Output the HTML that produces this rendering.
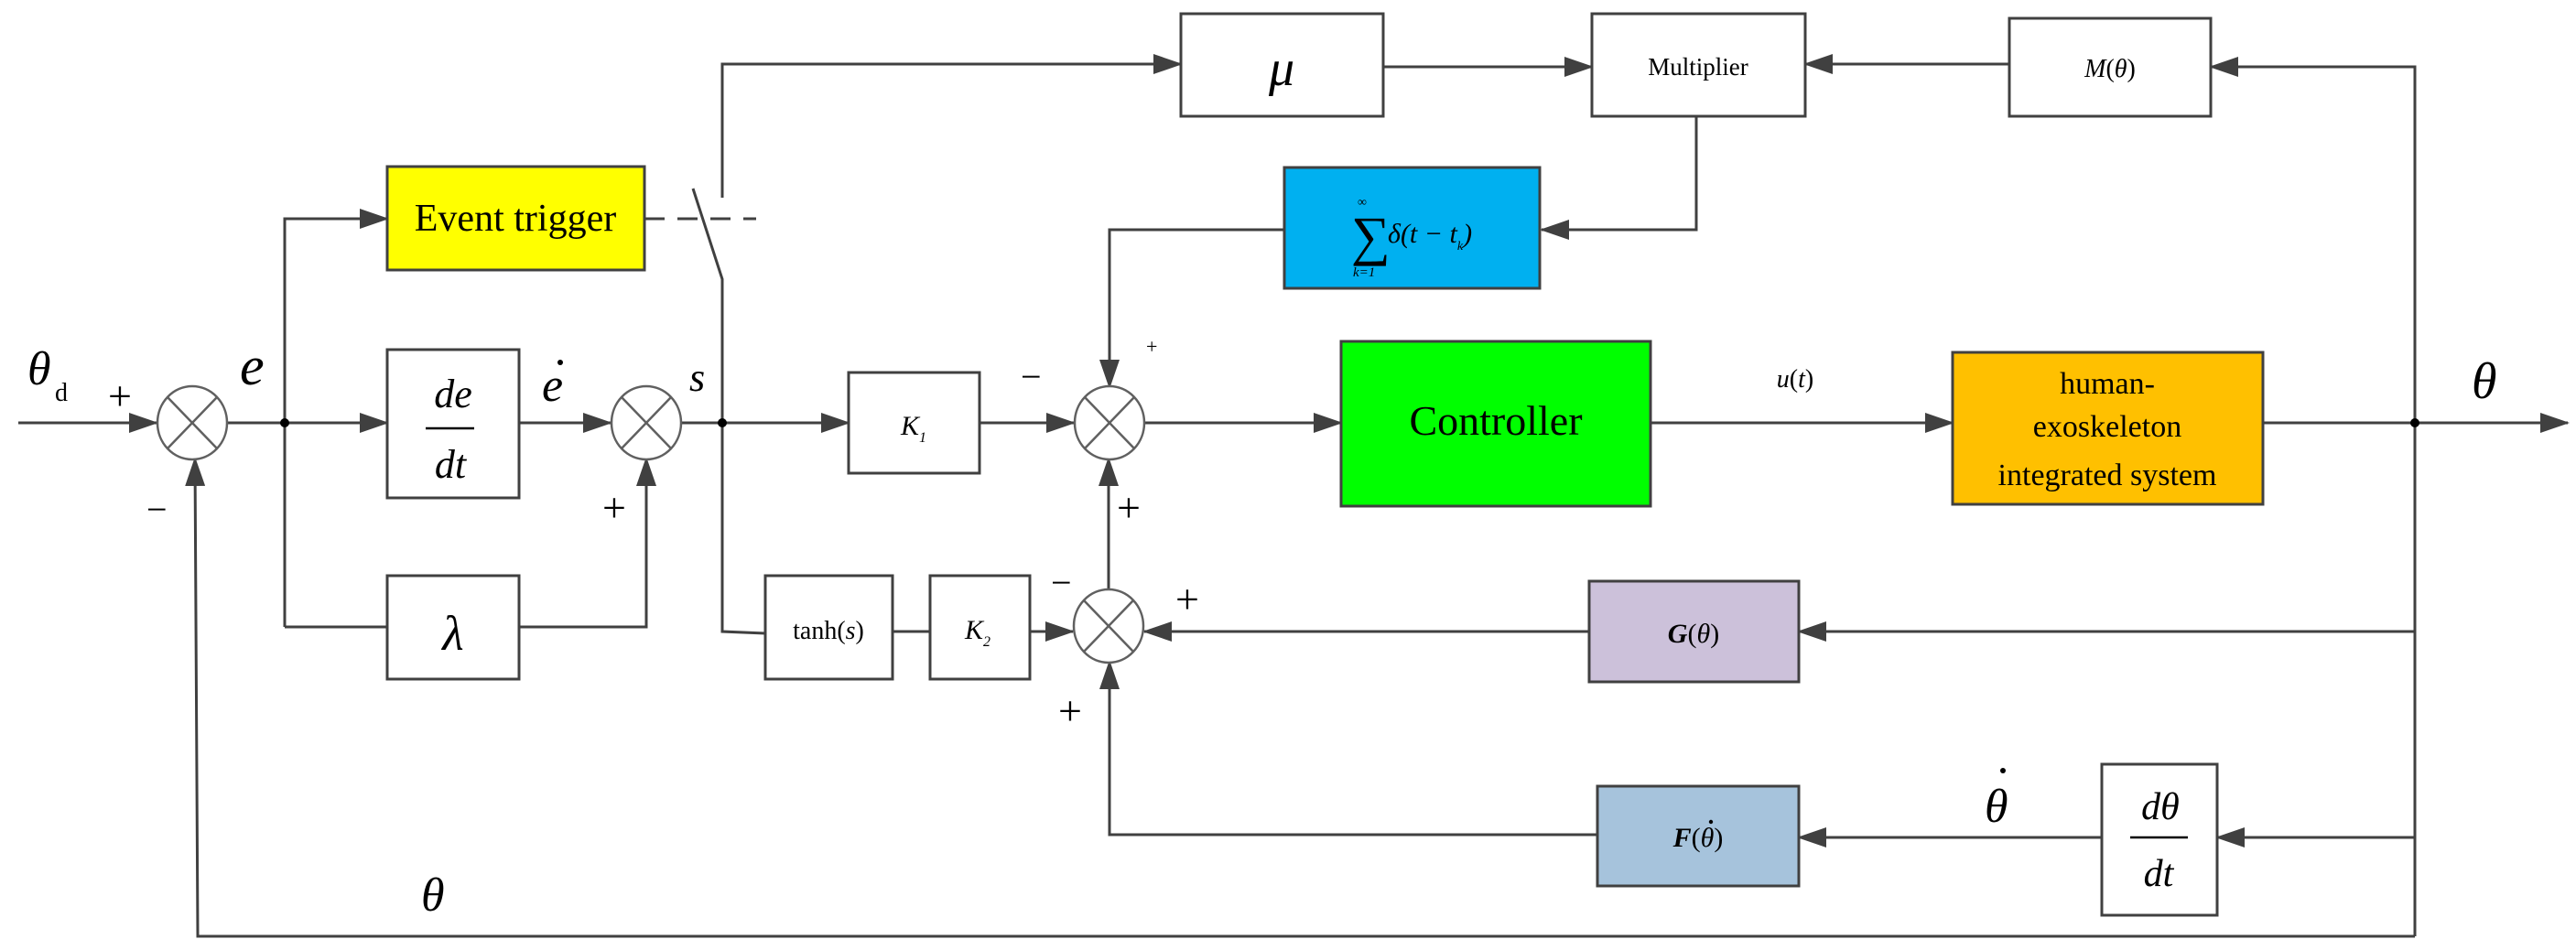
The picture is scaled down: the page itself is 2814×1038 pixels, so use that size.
<!DOCTYPE html>
<html><head><meta charset="utf-8"><style>
html,body{margin:0;padding:0;background:#fff;}
svg{display:block;font-family:"Liberation Serif",serif;}
svg text{font-family:"Liberation Serif",serif;fill:#000;}
.i{font-style:italic;}
</style></head><body>
<svg width="2814" height="1038" viewBox="0 0 2814 1038" xmlns="http://www.w3.org/2000/svg" font-family="Liberation Serif, serif">
<defs>
<marker id="a" markerWidth="32" markerHeight="22" refX="30" refY="11" orient="auto" markerUnits="userSpaceOnUse">
<path d="M0,0 L32,11 L0,22 Z" fill="#404040"/></marker>
</defs>
<g stroke="#404040" stroke-width="3" fill="none">
<line x1="20" y1="462" x2="171" y2="462" marker-end="url(#a)"/>
<line x1="249" y1="462" x2="423" y2="462" marker-end="url(#a)"/>
<line x1="567" y1="462" x2="667" y2="462" marker-end="url(#a)"/>
<line x1="745" y1="462" x2="927" y2="462" marker-end="url(#a)"/>
<line x1="1070" y1="462" x2="1173" y2="462" marker-end="url(#a)"/>
<line x1="1251" y1="462" x2="1465" y2="462" marker-end="url(#a)"/>
<line x1="1803" y1="462" x2="2133" y2="462" marker-end="url(#a)"/>
<line x1="2472" y1="462" x2="2805" y2="462" marker-end="url(#a)"/>
<polyline points="311,685 311,239 423,239" marker-end="url(#a)"/>
<line x1="311" y1="685" x2="423" y2="685"/>
<polyline points="567,685 706,685 706,501" marker-end="url(#a)"/>
<line x1="704" y1="239" x2="826" y2="239" stroke-dasharray="22,14"/>
<polyline points="789,462 789,305 757,206"/>
<polyline points="789,216 789,70 1290,70" marker-end="url(#a)"/>
<polyline points="789,462 789,690 836,692"/>
<line x1="975" y1="690" x2="1016" y2="690"/>
<line x1="1125" y1="690" x2="1172" y2="690" marker-end="url(#a)"/>
<line x1="1211" y1="645" x2="1211" y2="501" marker-end="url(#a)"/>
<polyline points="1403,251 1212,251 1212,423" marker-end="url(#a)"/>
<polyline points="1853,127 1853,251 1684,251" marker-end="url(#a)"/>
<line x1="1511" y1="73" x2="1739" y2="73" marker-end="url(#a)"/>
<line x1="2195" y1="70" x2="1972" y2="70" marker-end="url(#a)"/>
<polyline points="2638,1023 2638,73 2415,73" marker-end="url(#a)"/>
<line x1="2638" y1="690" x2="1965" y2="690" marker-end="url(#a)"/>
<line x1="1736" y1="690" x2="1250" y2="690" marker-end="url(#a)"/>
<line x1="2638" y1="915" x2="2422" y2="915" marker-end="url(#a)"/>
<line x1="2296" y1="915" x2="1965" y2="915" marker-end="url(#a)"/>
<polyline points="1745,912 1212,912 1212,723" marker-end="url(#a)"/>
<polyline points="2638,1023 216,1023 213,501" marker-end="url(#a)"/>
</g>
<g fill="#000">
<circle cx="311" cy="462" r="5"/><circle cx="789" cy="462" r="5"/><circle cx="2638" cy="462" r="5"/>
</g>
<g stroke="#606060" stroke-width="2.5" fill="#fff">
<g transform="translate(210,462)"><ellipse rx="38" ry="40"/><line x1="-27" y1="-28" x2="27" y2="28"/><line x1="-27" y1="28" x2="27" y2="-28"/></g>
<g transform="translate(706,462)"><ellipse rx="38" ry="40"/><line x1="-27" y1="-28" x2="27" y2="28"/><line x1="-27" y1="28" x2="27" y2="-28"/></g>
<g transform="translate(1212,462)"><ellipse rx="38" ry="40"/><line x1="-27" y1="-28" x2="27" y2="28"/><line x1="-27" y1="28" x2="27" y2="-28"/></g>
<g transform="translate(1211,684)"><ellipse rx="38" ry="40"/><line x1="-27" y1="-28" x2="27" y2="28"/><line x1="-27" y1="28" x2="27" y2="-28"/></g>
</g>
<g stroke="#404040" stroke-width="3">
<rect x="423" y="182" width="281" height="113" fill="#ffff00"/>
<rect x="423" y="382" width="144" height="162" fill="#fff"/>
<rect x="423" y="629" width="144" height="113" fill="#fff"/>
<rect x="927" y="407" width="143" height="110" fill="#fff"/>
<rect x="836" y="629" width="139" height="113" fill="#fff"/>
<rect x="1016" y="629" width="109" height="113" fill="#fff"/>
<rect x="1290" y="15" width="221" height="112" fill="#fff"/>
<rect x="1739" y="15" width="233" height="112" fill="#fff"/>
<rect x="2195" y="20" width="220" height="107" fill="#fff"/>
<rect x="1403" y="183" width="279" height="132" fill="#00b0f0"/>
<rect x="1465" y="373" width="338" height="180" fill="#00ff00"/>
<rect x="2133" y="385" width="339" height="166" fill="#ffc000"/>
<rect x="1736" y="635" width="229" height="110" fill="#ccc1da"/>
<rect x="1745" y="859" width="220" height="109" fill="#a6c3dc"/>
<rect x="2296" y="835" width="126" height="165" fill="#fff"/>
</g>
<text font-family="Liberation Serif, serif" x="563" y="252" font-size="42" text-anchor="middle">Event trigger</text>
<text font-family="Liberation Serif, serif" x="495" y="445" font-size="44" class="i" text-anchor="middle">de</text>
<line x1="465" y1="468" x2="518" y2="468" stroke="#000" stroke-width="2.5"/>
<text font-family="Liberation Serif, serif" x="492" y="522" font-size="44" class="i" text-anchor="middle">dt</text>
<text font-family="Liberation Serif, serif" x="495" y="710" font-size="54" class="i" text-anchor="middle">λ</text>
<text font-family="Liberation Serif, serif" x="998" y="475" font-size="30" class="i" text-anchor="middle">K<tspan font-size="16" dy="8">1</tspan></text>
<text font-family="Liberation Serif, serif" x="905" y="698" font-size="28" text-anchor="middle">tanh(<tspan class="i">s</tspan>)</text>
<text font-family="Liberation Serif, serif" x="1068" y="698" font-size="30" class="i" text-anchor="middle">K<tspan font-size="16" dy="8">2</tspan></text>
<text font-family="Liberation Serif, serif" x="1400" y="93" font-size="56" class="i" text-anchor="middle">μ</text>
<text font-family="Liberation Serif, serif" x="1855" y="82" font-size="27" text-anchor="middle">Multiplier</text>
<text font-family="Liberation Serif, serif" x="2305" y="84" font-size="28" text-anchor="middle"><tspan class="i">M</tspan>(<tspan class="i">θ</tspan>)</text>
<text font-family="Liberation Serif, serif" x="1476" y="278" font-size="60">∑</text>
<text font-family="Liberation Serif, serif" x="1483" y="225" font-size="14">∞</text>
<text font-family="Liberation Serif, serif" x="1478" y="302" font-size="15" class="i">k=1</text>
<text font-family="Liberation Serif, serif" x="1516" y="265" font-size="30" class="i">δ(t − t<tspan font-size="14" dy="8">k</tspan><tspan dy="-8">)</tspan></text>
<text font-family="Liberation Serif, serif" x="1634" y="475" font-size="46" text-anchor="middle">Controller</text>
<text font-family="Liberation Serif, serif" x="1961" y="423" font-size="28" text-anchor="middle"><tspan class="i">u</tspan>(<tspan class="i">t</tspan>)</text>
<text font-family="Liberation Serif, serif" x="2302" y="430" font-size="34" text-anchor="middle">human-</text>
<text font-family="Liberation Serif, serif" x="2302" y="477" font-size="34" text-anchor="middle">exoskeleton</text>
<text font-family="Liberation Serif, serif" x="2302" y="530" font-size="34" text-anchor="middle">integrated system</text>
<text font-family="Liberation Serif, serif" x="1850" y="702" font-size="30" text-anchor="middle" font-weight="bold"><tspan class="i">G</tspan><tspan font-weight="normal">(<tspan class="i">θ</tspan>)</tspan></text>
<text font-family="Liberation Serif, serif" x="1855" y="925" font-size="30" text-anchor="middle" font-weight="bold"><tspan class="i">F</tspan><tspan font-weight="normal">(<tspan class="i">θ</tspan>)</tspan></text>
<circle cx="1869" cy="898" r="2.2" fill="#000"/>
<text font-family="Liberation Serif, serif" x="2360" y="895" font-size="42" class="i" text-anchor="middle">dθ</text>
<line x1="2327" y1="915" x2="2390" y2="915" stroke="#000" stroke-width="2.5"/>
<text font-family="Liberation Serif, serif" x="2358" y="968" font-size="42" class="i" text-anchor="middle">dt</text>
<text font-family="Liberation Serif, serif" x="30" y="420" font-size="52" class="i">θ</text><text font-family="Liberation Serif, serif" x="60" y="438" font-size="28">d</text>
<text font-family="Liberation Serif, serif" x="118" y="448" font-size="46">+</text>
<text font-family="Liberation Serif, serif" x="160" y="570" font-size="40">−</text>
<text font-family="Liberation Serif, serif" x="262" y="420" font-size="60" class="i">e</text>
<text font-family="Liberation Serif, serif" x="592" y="438" font-size="52" class="i">e</text>
<circle cx="612" cy="396" r="3" fill="#000"/>
<text font-family="Liberation Serif, serif" x="753" y="427" font-size="44" class="i">s</text>
<text font-family="Liberation Serif, serif" x="658" y="570" font-size="46">+</text>
<text font-family="Liberation Serif, serif" x="1115" y="425" font-size="40">−</text>
<text font-family="Liberation Serif, serif" x="1252" y="386" font-size="22">+</text>
<text font-family="Liberation Serif, serif" x="1220" y="570" font-size="46">+</text>
<text font-family="Liberation Serif, serif" x="1148" y="650" font-size="40">−</text>
<text font-family="Liberation Serif, serif" x="1284" y="670" font-size="46">+</text>
<text font-family="Liberation Serif, serif" x="1156" y="792" font-size="46">+</text>
<text font-family="Liberation Serif, serif" x="460" y="995" font-size="52" class="i">θ</text>
<text font-family="Liberation Serif, serif" x="2700" y="435" font-size="56" class="i">θ</text>
<text font-family="Liberation Serif, serif" x="2168" y="898" font-size="52" class="i">θ</text>
<circle cx="2188" cy="842" r="3" fill="#000"/>
</svg>
</body></html>
